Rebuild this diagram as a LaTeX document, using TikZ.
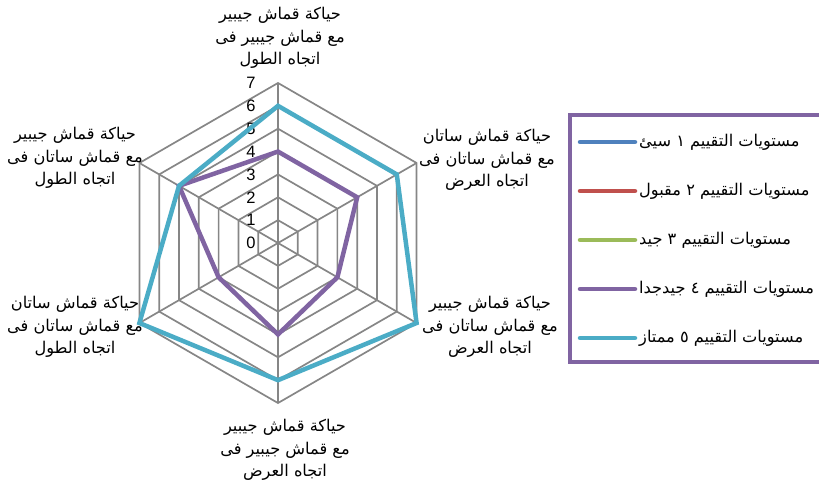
\documentclass[tikz,border=0pt]{standalone}
\usepackage{fontspec}
\setmainfont{Liberation Sans}
\newfontfamily\arabicfont[Script=Arabic]{DejaVu Sans}
\TeXXeTstate=1
\definecolor{gridgray}{RGB}{134,134,134}
\definecolor{serblue}{RGB}{79,129,189}
\definecolor{serred}{RGB}{192,80,77}
\definecolor{sergreen}{RGB}{155,187,89}
\definecolor{serpurple}{RGB}{128,100,162}
\definecolor{sercyan}{RGB}{75,172,198}
\tikzset{
  gridline/.style={draw=gridgray, line width=1.7pt},
  series/.style={line width=4.5pt, line join=miter},
  axislabel/.style={align=center, inner sep=0pt, font=\arabicfont\fontsize{16.2}{22.8}\selectfont},
  ticklabel/.style={inner sep=0pt, font=\fontsize{16.5}{18}\selectfont},
  legendtext/.style={anchor=west, inner sep=0pt, font=\arabicfont\fontsize{16.2}{18}\selectfont},
  legendline/.style={line width=4.5pt, line cap=round},
}
\newcommand{\rline}[1]{\beginR #1\endR}
\begin{document}
\begin{tikzpicture}[x=1pt, y=1pt]
\useasboundingbox (-278,-240) rectangle (541,243);
\clip (-278,-240) rectangle (541,243);
\def\stp{22.86}
% hexagonal grid rings
\foreach \k in {1,...,7}{
  \draw[gridline] (90:\stp*\k) -- (30:\stp*\k) -- (-30:\stp*\k) -- (-90:\stp*\k) -- (-150:\stp*\k) -- (150:\stp*\k) -- cycle;
}
% spokes
\foreach \a in {90,30,-30,-90,-150,150}{
  \draw[gridline] (0,0) -- (\a:7*\stp);
}
% scale values
\foreach \k in {0,...,7}{
  \node[ticklabel] (tick\k) at (-27,\stp*\k) {\k};
}
% rating level 4
\draw[series, serpurple] (90:4*\stp) -- (30:4*\stp) -- (-30:3*\stp) -- (-90:4*\stp) -- (-150:3*\stp) -- (150:5*\stp) -- cycle;
% rating level 5
\draw[series, sercyan] (90:6*\stp) -- (30:6*\stp) -- (-30:7*\stp) -- (-90:6*\stp) -- (-150:7*\stp) -- (150:5*\stp) -- cycle;
% axis captions
\node[axislabel] (lbltop) at (2,205) {\rline{حياكة قماش جيبير}\\\rline{مع قماش جيبير فى}\\\rline{اتجاه الطول}};
\node[axislabel] (lblur) at (209,83) {\rline{حياكة قماش ساتان}\\\rline{مع قماش ساتان فى}\\\rline{اتجاه العرض}};
\node[axislabel] (lbllr) at (212,-84) {\rline{حياكة قماش جيبير}\\\rline{مع قماش ساتان فى}\\\rline{اتجاه العرض}};
\node[axislabel] (lblb) at (7,-207) {\rline{حياكة قماش جيبير}\\\rline{مع قماش جيبير فى}\\\rline{اتجاه العرض}};
\node[axislabel] (lblll) at (-203,-84) {\rline{حياكة قماش ساتان}\\\rline{مع قماش ساتان فى}\\\rline{اتجاه الطول}};
\node[axislabel] (lblul) at (-203,85) {\rline{حياكة قماش جيبير}\\\rline{مع قماش ساتان فى}\\\rline{اتجاه الطول}};
% legend
\draw[serpurple, line width=4.5pt] (292,128) rectangle (560,-119);
\foreach \y/\c/\t [count=\i] in {
  101/serblue/{مستويات  التقييم ١ سيئ},
  52/serred/{مستويات  التقييم ٢ مقبول},
  3/sergreen/{مستويات  التقييم ٣ جيد},
  -46/serpurple/{مستويات  التقييم ٤ جيدجدا},
  -95/sercyan/{مستويات  التقييم ٥ ممتاز}}{
  \coordinate (ls\i) at (302,\y);
  \coordinate (le\i) at (357,\y);
  \draw[legendline, \c] (ls\i) -- (le\i);
  \node[legendtext] (lt\i) at (361,\y) {\rline{\t}};
}
\end{tikzpicture}
\end{document}
